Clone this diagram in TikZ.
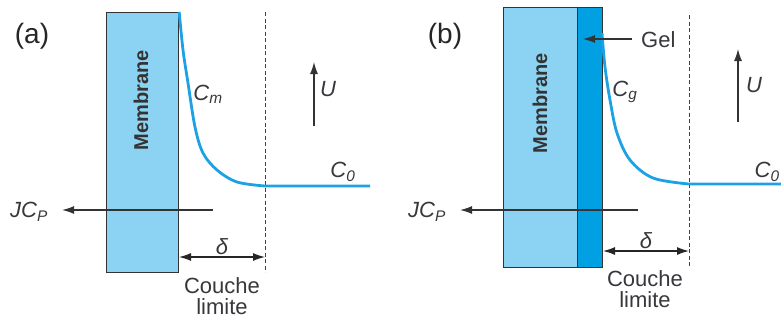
\documentclass[tikz,border=0pt]{standalone}
\usepackage{fontspec}
\setmainfont{Liberation Sans}
\usetikzlibrary{arrows.meta}
\definecolor{membblue}{RGB}{140,210,243}
\definecolor{gelblue}{RGB}{0,160,226}
\definecolor{curveblue}{RGB}{28,162,228}
\definecolor{txtgray}{RGB}{55,55,60}
\newcommand{\conc}[2]{\textit{#1}\textsubscript{\textit{#2}}}

\begin{document}
\begin{tikzpicture}[x=1pt,y=-1pt,
  lbl/.style={font=\fontsize{22}{24}\selectfont,text=txtgray,inner sep=1pt},
  tag/.style={font=\fontsize{28}{30}\selectfont,text=black!85,inner sep=0pt},
  membtxt/.style={font=\bfseries\fontsize{20}{22}\selectfont,rotate=90,text=black!80},
  membbox/.style={draw=black!80,line width=1.2pt,inner sep=0pt,anchor=north west},
  flux/.style={-{Latex[length=12pt,width=8pt]},black!80,line width=1.2pt},
  dim/.style={{Latex[length=12pt,width=8pt]}-{Latex[length=12pt,width=8pt]},black!85,line width=1.2pt},
  limit/.style={black!75,line width=1pt,dash pattern=on 4pt off 2.5pt},
  profile/.style={curveblue,line width=2.8pt}]
\useasboundingbox (0,0) rectangle (781,322);

% (a) membrane seule
\node[tag] (tagA) at (32,36) {(a)};
\node[membbox,fill=membblue,minimum width=72pt,minimum height=260pt] (memA) at (106,12) {};
\node[membtxt] (txtA) at (141,100) {Membrane};
\coordinate (limTopA) at (265,12);
\coordinate (limBotA) at (265,272);
\draw[limit] (limTopA) -- (limBotA);
\draw[profile] plot[smooth,tension=0.55] coordinates
  {(memA.north east) (183,50) (188,83) (195,127) (203,153) (217,170) (237,182) (265,186)}
  -- (370,186);
\node[lbl] (cmA) at (208,94) {\conc{C}{m}};
\node[lbl] (czA) at (343,172) {\conc{C}{0}};
\coordinate (uBotA) at (314,126);
\coordinate (uTopA) at (314,62);
\draw[flux] (uBotA) -- (uTopA);
\node[lbl] (uA) at (328,89) {\textit{U}};
\coordinate (jStartA) at (213,210);
\node[lbl] (jA) at (29,212) {\conc{JC}{P}};
\draw[flux,shorten >=13pt] (jStartA) -- (jA.east |- jStartA);
\coordinate (dLeftA) at (179,257);
\coordinate (dRightA) at (265,257);
\draw[dim] (dLeftA) -- (dRightA) node[lbl,midway,above=1pt] (deltaA) {\textit{δ}};
\node[lbl,align=center,font=\fontsize{22}{21}\selectfont] (clA) at (222,296) {Couche\\limite};

% (b) membrane avec gel
\node[tag] (tagB) at (445,36) {(b)};
\node[membbox,fill=membblue,minimum width=74pt,minimum height=260pt] (memB) at (503,7) {};
\node[membbox,fill=gelblue,minimum width=25pt,minimum height=260pt] (gelB) at (577,7) {};
\node[membtxt] (txtB) at (540,103) {Membrane};
\coordinate (limTopB) at (689,15);
\coordinate (limBotB) at (689,267);
\draw[limit] (limTopB) -- (limBotB);
\draw[profile] plot[smooth,tension=0.55] coordinates
  {(602,33) (605,67) (610,100) (617,133) (630,160) (653,178) (689,184)}
  -- (790,184);
\node[lbl] (cgB) at (625,92) {\conc{C}{g}};
\node[lbl,anchor=east] (czB) at (781,172) {\conc{C}{0}};
\node[lbl,anchor=west] (gelLbl) at (640,40) {Gel};
\coordinate (gelTip) at (583,39);
\draw[flux,shorten <=8pt] (gelLbl.west |- gelTip) -- (gelTip);
\coordinate (uBotB) at (738,122);
\coordinate (uTopB) at (738,49);
\draw[flux] (uBotB) -- (uTopB);
\node[lbl] (uB) at (754,85) {\textit{U}};
\coordinate (jStartB) at (638,210);
\node[lbl] (jB) at (427,212) {\conc{JC}{P}};
\draw[flux,shorten >=13pt] (jStartB) -- (jB.east |- jStartB);
\coordinate (dLeftB) at (603,251);
\coordinate (dRightB) at (689,251);
\draw[dim] (dLeftB) -- (dRightB) node[lbl,midway,above=1pt] (deltaB) {\textit{δ}};
\node[lbl,align=center,font=\fontsize{22}{21}\selectfont] (clB) at (645,289) {Couche\\limite};
\end{tikzpicture}
\end{document}
